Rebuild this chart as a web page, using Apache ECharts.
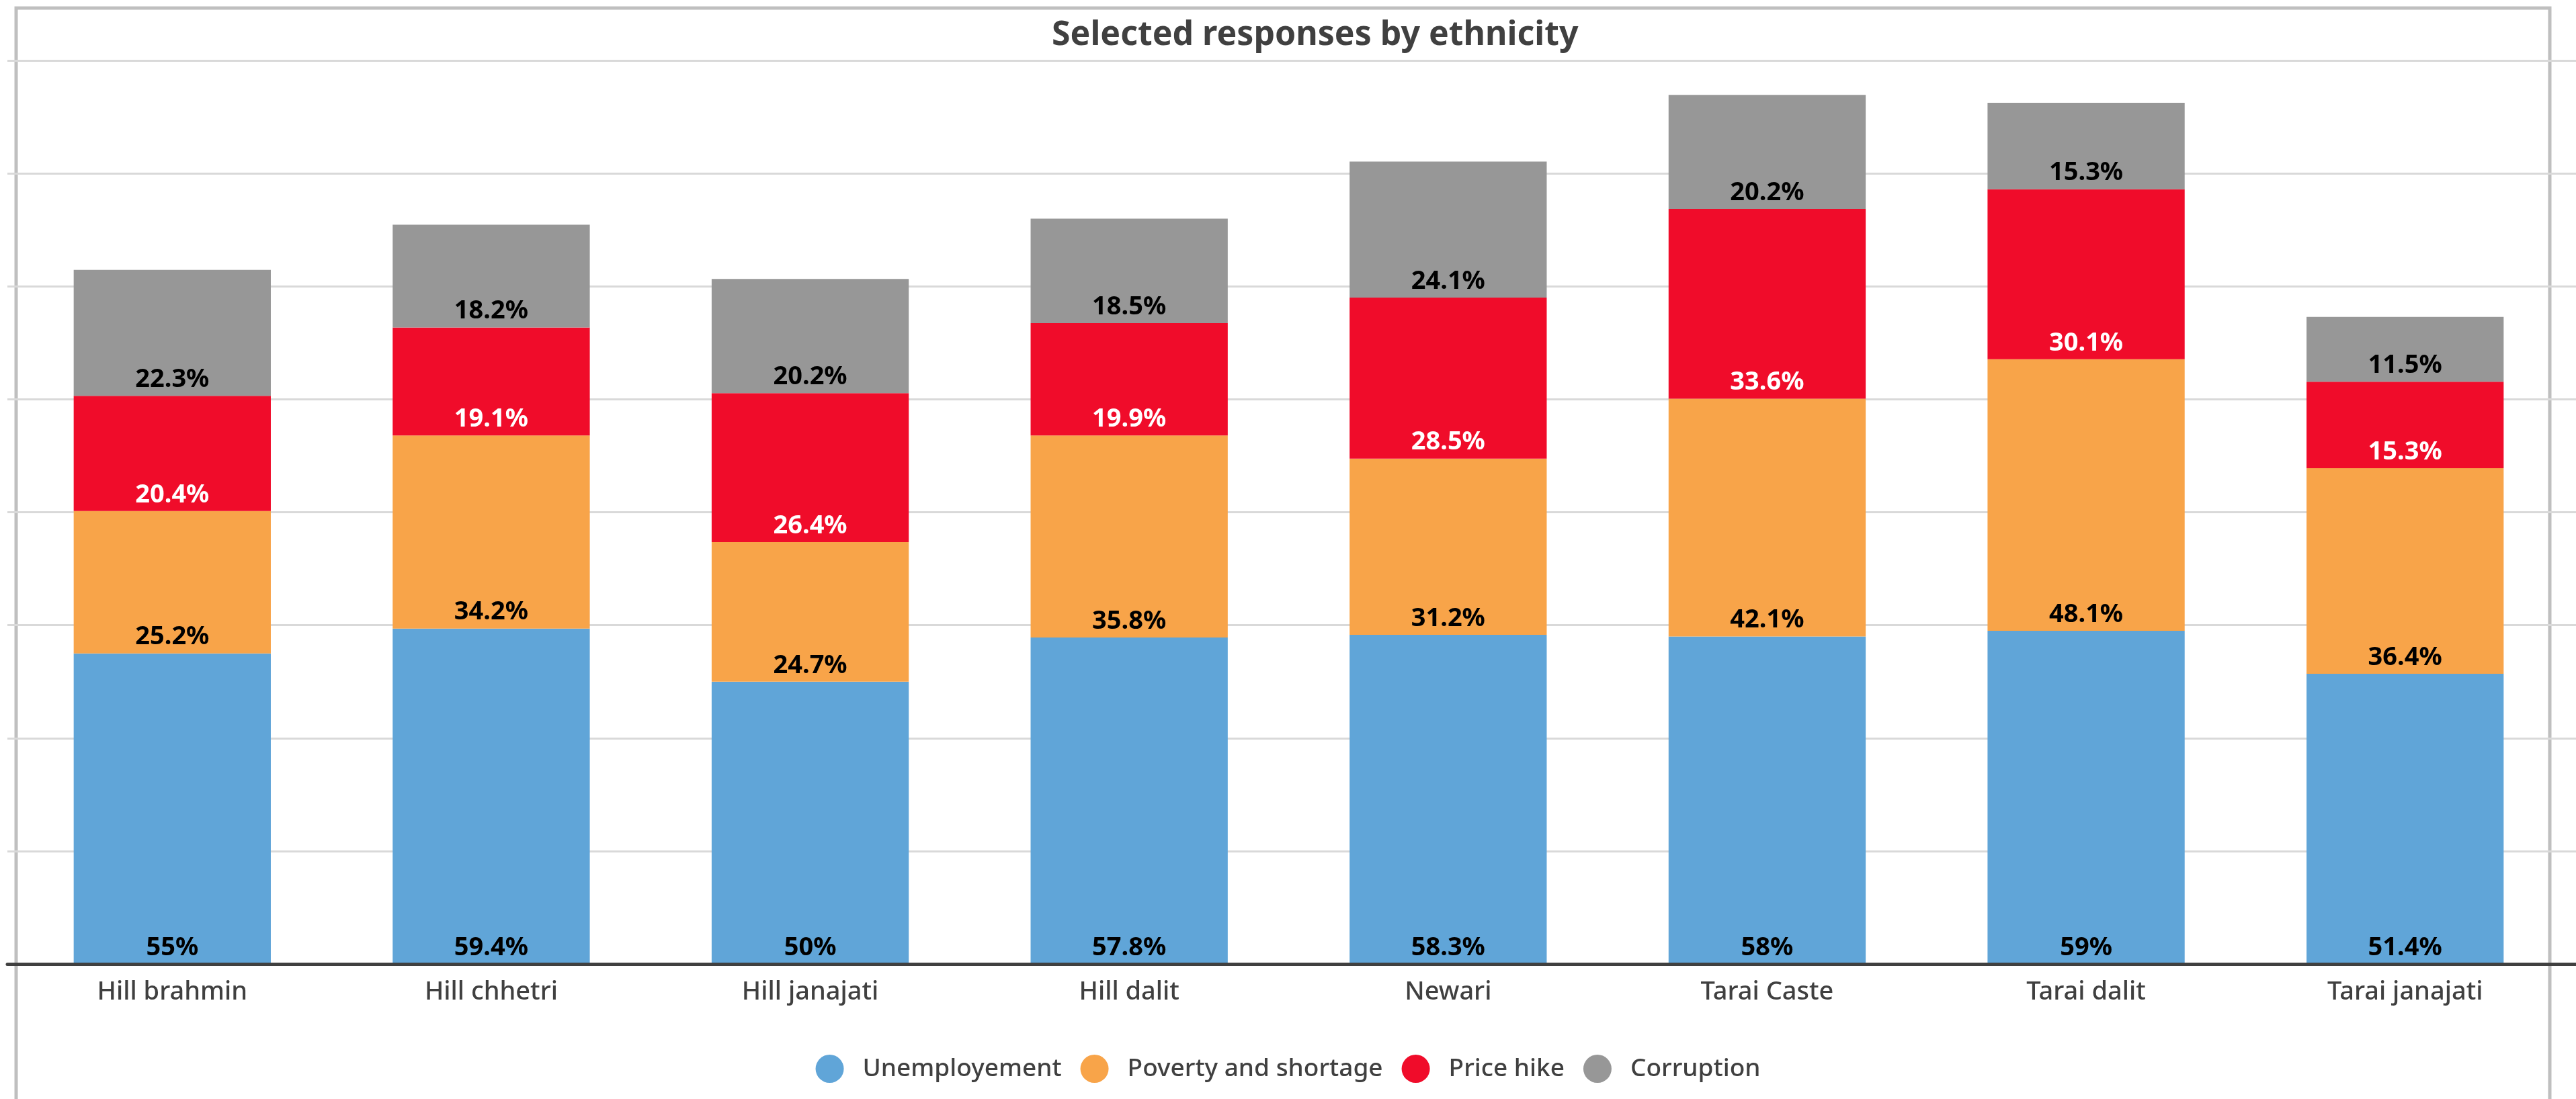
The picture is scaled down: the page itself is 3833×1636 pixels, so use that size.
<!DOCTYPE html>
<html>
<head>
<meta charset="utf-8">
<script src="https://cdn.jsdelivr.net/npm/echarts@6/dist/echarts.min.js"></script>
<style>html,body{margin:0;padding:0;background:#fff}#c{width:3833px;height:1636px}</style>
</head>
<body>
<div id="c"></div>
<script>
const categories = ['Hill brahmin','Hill chhetri','Hill janajati','Hill dalit','Newari','Tarai Caste','Tarai dalit','Tarai janajati'];
const seriesNames = ['Unemployement','Poverty and shortage','Price hike','Corruption'];
const unemployment = [55, 59.4, 50, 57.8, 58.3, 58, 59, 51.4];
const poverty = [25.2, 34.2, 24.7, 35.8, 31.2, 42.1, 48.1, 36.4];
const priceHike = [20.4, 19.1, 26.4, 19.9, 28.5, 33.6, 30.1, 15.3];
const corruption = [22.3, 18.2, 20.2, 18.5, 24.1, 20.2, 15.3, 11.5];
const colors = ['#60a5d8', '#f8a449', '#f00c2a', '#979797'];
const labelColors = ['#000000', '#000000', '#ffffff', '#000000'];
const yMin = 0, yMax = 160, yInterval = 20;

const FONT = 'Noto Sans';
const chart = echarts.init(document.getElementById('c'), null, {renderer: 'canvas'});
const dataSets = [unemployment, poverty, priceHike, corruption];

const series = dataSets.map((d, i) => ({
  name: seriesNames[i],
  type: 'bar',
  stack: 'total',
  xAxisIndex: 1,
  yAxisIndex: 1,
  data: d,
  barWidth: '61.8%',
  itemStyle: {color: colors[i]},
  label: {
    show: true,
    position: 'insideBottom',
    distance: 5,
    formatter: '{c}%',
    color: labelColors[i],
    fontFamily: FONT,
    fontWeight: 'bold',
    fontSize: 38
  },
  emphasis: {disabled: true}
}));

chart.setOption({
  animation: false,
  backgroundColor: '#ffffff',
  color: colors,
  title: {
    text: 'Selected responses by ethnicity',
    left: 1560,
    top: 23,
    textStyle: {fontFamily: FONT, fontWeight: 'bold', fontSize: 50, color: '#404040'}
  },
  legend: {
    data: seriesNames,
    left: 'center',
    top: 1565,
    icon: 'circle',
    itemWidth: 42,
    itemHeight: 42,
    itemGap: 28,
    textStyle: {fontFamily: FONT, fontSize: 37, fontWeight: 500, color: '#404040', padding: [0, 0, 0, 23]}
  },
  graphic: [{
    type: 'rect',
    silent: true,
    z: 0,
    shape: {x: 24, y: 12, width: 3770, height: 1700},
    style: {fill: null, stroke: '#bfbfbf', lineWidth: 5}
  }],
  grid: [
    {left: 11, right: 0, top: 90, bottom: 201},
    {left: 19, right: 17, top: 90, bottom: 201}
  ],
  xAxis: [
    {gridIndex: 0, type: 'value', min: 0, max: 1, axisLabel: {show: false}, axisTick: {show: false},
     splitLine: {show: false}, axisLine: {show: true, onZero: false, lineStyle: {color: '#404040', width: 5}}, z: 10},
    {gridIndex: 1, type: 'category', data: categories, axisLine: {show: false}, axisTick: {show: false},
     axisLabel: {fontFamily: FONT, fontSize: 38, fontWeight: 500, color: '#404040', margin: 23}}
  ],
  yAxis: [
    {gridIndex: 0, type: 'value', min: yMin, max: yMax, interval: yInterval, axisLabel: {show: false},
     axisLine: {show: false}, axisTick: {show: false}, splitLine: {show: true, lineStyle: {color: '#d9d9d9', width: 3}}},
    {gridIndex: 1, type: 'value', min: yMin, max: yMax, interval: yInterval, show: false, splitLine: {show: false}}
  ],
  series: series
});
</script>
</body>
</html>
